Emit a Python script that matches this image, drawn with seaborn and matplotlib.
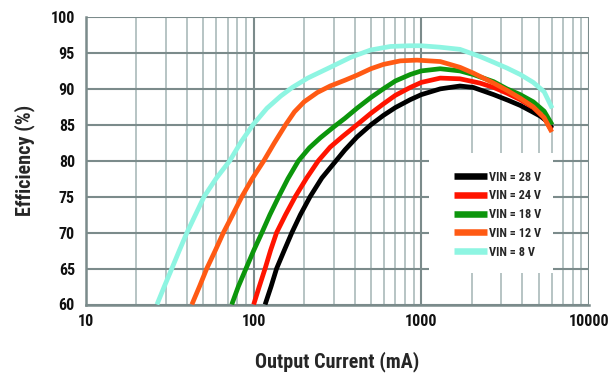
import numpy as np
import pandas as pd
import seaborn as sns
import matplotlib
matplotlib.use("Agg")
import matplotlib.pyplot as plt
from matplotlib import font_manager
from matplotlib.ticker import LogLocator, FixedLocator, NullFormatter
from matplotlib.lines import Line2D
from matplotlib.patches import Rectangle

# Efficiency vs. output current for each input voltage
labels = ["VIN = 28 V", "VIN = 24 V", "VIN = 18 V", "VIN = 12 V", "VIN = 8 V"]
colors = ["#000000", "#ff1400", "#0c960c", "#ff5a14", "#8ef5e2"]

i_28v = [117, 127, 137, 152, 169, 190, 217, 255, 300, 350, 413, 500, 593, 700, 859,
         1000, 1297, 1700, 2040, 2700, 3300, 3890, 4600, 5130, 5600, 6030]
e_28v = [60, 62.5, 65, 67.5, 70, 72.5, 75, 77.6, 79.6, 81.5, 83.3, 85.0, 86.3, 87.4, 88.5,
         89.2, 90.0, 90.4, 90.2, 89.2, 88.4, 87.7, 86.8, 86.2, 85.5, 84.5]

i_24v = [100, 108, 117, 126, 137, 155, 177, 207, 243, 286, 340, 413, 500, 593, 700, 859,
         1000, 1297, 1700, 2240, 2700, 3240, 3890, 4650, 5400, 5950]
e_24v = [60, 62.5, 65, 67.5, 70, 72.5, 75, 77.6, 80, 81.9, 83.4, 85.0, 86.6, 87.9, 89.1, 90.2,
         90.9, 91.5, 91.4, 90.8, 90.2, 89.4, 88.5, 87.4, 86.0, 84.3]

i_18v = [74, 81, 90, 100, 112, 125, 141, 160, 185, 215, 250, 300, 350, 413, 500, 593, 700,
         859, 1000, 1297, 1700, 2040, 2700, 3240, 3890, 4650, 5400, 6030]
e_18v = [60, 62.5, 65, 67.5, 70, 72.5, 75, 77.5, 80, 81.8, 83.2, 84.7, 85.9, 87.3, 88.8, 90.0, 91.1,
         92.0, 92.5, 92.8, 92.5, 92.0, 91.0, 90.0, 89.2, 88.2, 86.9, 85.0]

i_12v = [42.8, 47.5, 52.5, 59, 66, 75, 85, 98, 115, 133, 155, 175, 200, 240, 286, 350, 413,
         500, 593, 750, 942, 1297, 1700, 2040, 2700, 3240, 3890, 4650, 5400, 6000]
e_12v = [60, 62.5, 65, 67.5, 70, 72.5, 75, 77.5, 80, 82.5, 85, 86.8, 88.2, 89.5, 90.4, 91.2, 91.9,
         92.8, 93.4, 93.9, 94.0, 93.8, 93.0, 92.2, 90.8, 89.8, 88.7, 87.5, 86.0, 84.0]

i_8v = [26.5, 29.3, 32.5, 36, 40, 45, 50.6, 60, 72, 84, 99, 120, 145, 170, 210, 286, 380, 497,
        653, 850, 1000, 1290, 1700, 2240, 2700, 3240, 3890, 4650, 5400, 6030]
e_8v = [60, 62.5, 65, 67.5, 70, 72.5, 75, 77.6, 80, 82.6, 85, 87.3, 89.0, 90.2, 91.5, 93.0, 94.4, 95.4,
        95.9, 96.0, 96.0, 95.8, 95.5, 94.5, 93.7, 92.9, 92.0, 90.9, 89.6, 87.3]

currents = [i_28v, i_24v, i_18v, i_12v, i_8v]
effs = [e_28v, e_24v, e_18v, e_12v, e_8v]

y_ticks = [60, 65, 70, 75, 80, 85, 90, 95, 100]
x_ticks = [10, 100, 1000, 10000]
x_tick_labels = ["10", "100", "1000", "10000"]

df = pd.concat(
    [pd.DataFrame({"current": c, "eff": e, "series": lab})
     for c, e, lab in zip(currents, effs, labels)],
    ignore_index=True,
)

sns.set_theme(style="white")

# pick a condensed sans-serif if one is installed
available = {f.name for f in font_manager.fontManager.ttflist}
font = "DejaVu Sans"
for cand in ["Liberation Sans Narrow", "Roboto Condensed", "Open Sans Condensed",
             "DejaVu Sans Condensed", "Liberation Sans"]:
    if cand in available:
        font = cand
        break
plt.rcParams["font.family"] = [font, "DejaVu Sans"]
plt.rcParams["font.stretch"] = "condensed"

fig = plt.figure(figsize=(6.15, 3.81), dpi=100)
ax = fig.add_axes([86 / 615, 1 - 304.5 / 381, 503 / 615, 287.5 / 381])

major_c = "#7b8b8b"
minor_c = "#b7c4c4"

ax.set_xscale("log")
ax.set_xlim(10, 10000)
ax.set_ylim(60, 100)
ax.xaxis.set_major_locator(FixedLocator(x_ticks))
ax.set_xticklabels(x_tick_labels)
ax.xaxis.set_minor_locator(LogLocator(base=10, subs=np.arange(2, 10)))
ax.xaxis.set_minor_formatter(NullFormatter())
ax.set_yticks(y_ticks)
ax.set_yticklabels([str(v) for v in y_ticks])

ax.grid(True, which="major", color=major_c, linewidth=1.5, zorder=0)
ax.grid(True, which="minor", axis="x", color=minor_c, linewidth=1.4, zorder=0)
ax.set_axisbelow(True)

for side in ["top", "right"]:
    ax.spines[side].set_visible(False)
for side in ["left", "bottom"]:
    ax.spines[side].set_color(major_c)
    ax.spines[side].set_linewidth(1.8)

ax.tick_params(axis="both", which="both", length=0)
ax.tick_params(axis="y", pad=8)
ax.tick_params(axis="x", pad=7)
for t in ax.get_xticklabels() + ax.get_yticklabels():
    t.set_fontsize(11.5)
    t.set_fontweight("bold")
    t.set_color("#111111")

sns.lineplot(data=df, x="current", y="eff", hue="series", hue_order=labels,
             palette=colors, sort=False, estimator=None, linewidth=3.4,
             solid_capstyle="butt", solid_joinstyle="round", legend=False, ax=ax, zorder=3)

# white panel behind the key
ax.add_patch(Rectangle((0.682, 0.1096), 0.246, 0.418, transform=ax.transAxes,
                       facecolor="white", edgecolor="none", zorder=1))

handles = [Line2D([0], [0], color=c, linewidth=4.7, solid_capstyle="butt") for c in colors]
leg = ax.legend(handles, labels, loc="upper left", bbox_to_anchor=(0.7316, 0.466),
                frameon=False, borderpad=0, borderaxespad=0,
                handlelength=2.7, handletextpad=0.2, labelspacing=0.47,
                prop={"weight": "bold", "size": 8.8})
leg.set_zorder(5)

ax.set_xlabel("Output Current (mA)", fontsize=14.5, fontweight="bold", labelpad=16)
ax.set_ylabel("Efficiency (%)", fontsize=14.5, fontweight="bold", labelpad=11)

fig.savefig("out.png", dpi=100, facecolor="white")
